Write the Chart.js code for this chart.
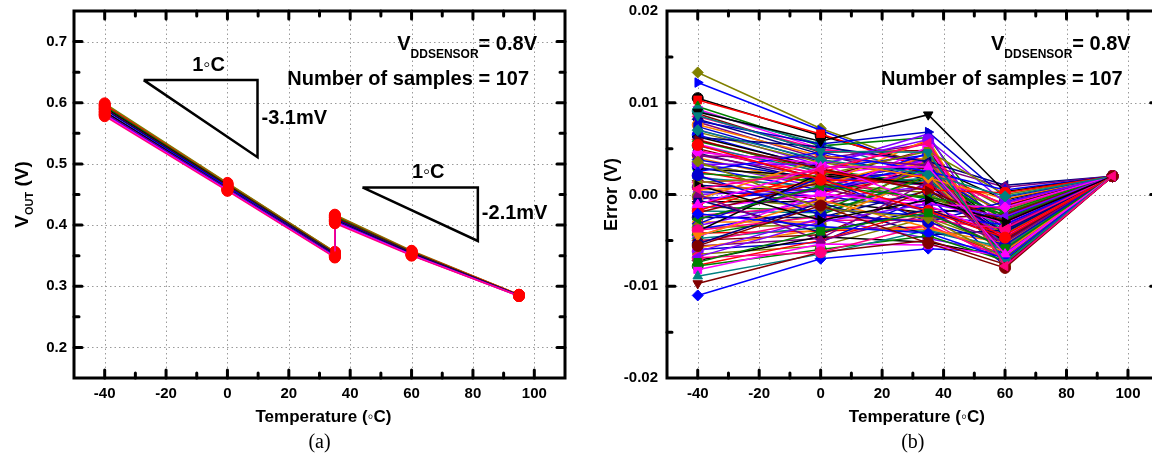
<!DOCTYPE html>
<html>
<head>
<meta charset="utf-8">
<script src="https://cdn.jsdelivr.net/npm/chart.js@4.4.0/dist/chart.umd.min.js"></script>
<style>
  html, body { margin: 0; padding: 0; background: #fff; overflow: hidden; width: 1152px; height: 455px; }
  #wrapA { position: absolute; left: 0; top: 0; width: 576px; height: 455px; }
  #wrapB { position: absolute; left: 576px; top: 0; width: 600px; height: 455px; }
</style>
</head>
<body>
<div id="wrapA"><canvas id="chartA" width="576" height="455"></canvas></div>
<div id="wrapB"><canvas id="chartB" width="600" height="455"></canvas></div>
<script>
// ---------------- data ----------------
// (a) output voltage, V. 35 °C is measured twice (low branch, then high branch)
var temperaturesA = [-40, 0, 35, 35, 60, 95];
var voutAtM40   = [0.599, 0.597, 0.596, 0.594, 0.592, 0.590, 0.589, 0.586, 0.585, 0.583, 0.581, 0.580, 0.578];
var voutAt0     = [0.469, 0.468, 0.467, 0.466, 0.465, 0.464, 0.463, 0.462, 0.460, 0.459, 0.458, 0.457, 0.456];
var voutAt35Low = [0.356, 0.356, 0.355, 0.354, 0.353, 0.353, 0.352, 0.351, 0.351, 0.350, 0.349, 0.348, 0.347];
var voutAt35High= [0.417, 0.416, 0.415, 0.414, 0.412, 0.412, 0.410, 0.409, 0.408, 0.407, 0.406, 0.405, 0.403];
var voutAt60    = [0.358, 0.357, 0.357, 0.356, 0.355, 0.355, 0.354, 0.353, 0.353, 0.352, 0.351, 0.351, 0.350];
var voutAt95    = [0.286, 0.286, 0.286, 0.285, 0.285, 0.285, 0.285, 0.285, 0.285, 0.285, 0.284, 0.284, 0.284];
var lineColorsA = ['#808000', '#808000', '#ff0000', '#008000', '#000000', '#800000', '#000080',
                   '#0000ff', '#000000', '#800080', '#0000ff', '#ff00ff', '#ff0080'];

// slope triangles drawn on (a), in data units
var slopeTriangles = [
  { left: -27.3, right: 9.8,  top: 0.637,  bottom: 0.511, run: '1\u25E6C', rise: '-3.1mV' },
  { left: 44.0,  right: 81.6, top: 0.4615, bottom: 0.374, run: '1\u25E6C', rise: '-2.1mV' }
];

// (b) error of each sample, mV
var temperaturesB = [-40, 0, 35, 60, 95];
var errAtM40 = [13.3, 12.2, 10.5, 10.3, 9.6, 9.3, 9.1, 8.8, 8.5, 8.2,
                7.9, 7.6, 7.4, 7.1, 6.8, 6.5, 6.3, 6.0, 5.8, 5.5,
                5.3, 5.0, 4.8, 4.5, 4.3, 4.0, 3.8, 3.5, 3.3, 3.0,
                2.8, 2.5, 2.3, 2.0, 1.8, 1.5, 1.3, 1.0, 0.8, 0.5,
                0.3, 0.0, -0.2, -0.5, -0.8, -1.0, -1.3, -1.5, -1.8, -2.0,
                -2.3, -2.5, -2.7, -3.0, -3.2, -3.4, -3.6, -3.8, -4.0, -4.2,
                -4.4, -4.6, -4.8, -5.0, -5.2, -5.4, -5.6, -5.8, -6.0, -6.2,
                -6.5, -11.0, -7.2, -7.7, -7.8, -8.2, -8.9, -9.7, -6.9,
                6.2, 4.2, -0.5, 8.0, 3.3, 1.3, 2.5, 9.0, -1.8, -2.7, 4.6,
                7.0, 5.9, -3.9, -0.6, 0.0, -4.5, 2.1, -6.8, 3.6, -2.1,
                1.0, 5.4, -7.4, -1.1, 8.6, -5.6, 0.6];
var errAt0   = [7.2, 7.0, 6.4, 6.6, 5.3, 5.0, 5.5, 4.6, 4.9, 4.4,
                3.9, 4.2, 3.6, 3.2, 3.5, 2.9, 3.0, 2.4, 2.7, 2.1,
                2.5, 1.8, 2.2, 1.4, 1.9, 1.0, 1.6, 0.8, 1.2, 0.5,
                2.0, 0.2, 1.5, -0.3, 0.9, -0.6, 2.0, 0.3, -1.0, 1.1,
                -0.2, 0.6, -1.4, 0.4, -0.8, 1.6, -1.8, 0.0, -2.0, 1.3,
                -1.2, -2.5, 0.7, -3.0, 1.8, -0.5, -3.3, -1.6, 2.3, -4.0,
                -2.2, 0.1, -3.6, -4.4, -2.8, -0.9, -4.8, -3.8, -5.2, -2.6,
                -5.6, -7.0, -4.6, -5.0, -6.0, -5.4, -6.5, -6.3, -6.3,
                5.2, 4.0, 3.8, 5.5, 3.3, 2.1, 4.6, 5.8, 2.6, 0.9, 3.4,
                3.8, 2.8, -2.4, -4.1, -5.0, -0.6, -2.2, -3.0, -1.5, -3.5,
                -2.8, 1.6, -4.0, 3.0, 4.7, -1.2, 2.7];
var errAt35  = [3.0, 2.6, 3.2, 2.8, 6.2, 3.5, 2.2, 4.8, 3.8, 1.6,
                5.5, 3.0, 2.5, 6.6, 1.9, 4.3, 2.9, 5.8, 1.2, 3.6,
                0.5, 4.9, 2.0, 3.3, 1.0, 6.0, 2.6, 3.9, 0.2, 4.5,
                1.5, 2.3, -0.5, 5.2, 1.8, 3.1, -1.0, 2.7, 0.8, 4.1,
                -1.5, 2.4, 0.0, 3.4, -2.0, 1.3, 2.9, -0.8, 1.7, -2.6,
                3.7, 0.4, -1.8, 2.1, -3.0, 0.9, 3.8, -2.3, 1.1, -3.5,
                2.0, -1.2, -4.0, 0.6, -2.8, -4.4, 1.4, -3.8, -0.2, -4.8,
                -2.5, -5.9, -5.2, -1.6, -4.5, -5.5, -3.9, -5.0, -3.3,
                3.6, 3.2, 1.8, 6.8, 6.0, 4.7, 2.5, 8.7, 0.5, -0.3, -1.1,
                2.2, 0.4, -2.8, -1.6, -2.2, -3.6, -3.0, -1.0, -2.6, -4.2,
                -0.6, -1.8, -2.0, 3.0, 4.6, -5.3, 5.6];
var errAt60  = [-1.5, -2.0, -0.6, -1.2, -4.8, -3.4, -5.6, -6.1, -2.6, -4.2,
                -6.8, -3.0, -5.0, -7.2, -1.9, -6.4, -3.8, -7.6, -2.3, -5.3,
                -4.4, -6.7, -1.0, -5.8, -3.6, -7.9, -2.8, -6.2, -4.6, -7.0,
                -3.2, -5.5, -2.1, -7.4, -4.0, -6.0, -1.6, -5.1, -3.5, -6.9,
                -2.5, -5.7, -4.3, -7.1, -1.3, -4.9, -6.5, -3.1, -5.4, -2.2,
                -7.3, -4.1, -5.9, -6.3, -0.8, -4.7, -7.7, -3.3, -5.2, -6.6,
                -2.7, -4.5, -6.0, -5.0, -7.5, -3.9, -6.1, -5.3, -7.8, -6.4,
                -5.6, -6.3, -6.8, -4.4, -7.2, -6.7, -5.8, -7.6, -7.0,
                1.0, 0.8, -0.5, -0.3, -0.9, 0.0, 0.5, 0.3, 0.2, -1.8, -1.4,
                -0.2, -2.9, -3.7, -4.8, -5.2, -6.2, -5.5, -2.4, -6.9, -7.0,
                -3.0, -4.7, -5.9, -6.5, -7.4, -8.0, -7.8];
var errAt95 = 2.0;   // every sample meets at 95 °C

// Origin-like colour / symbol cycles for (b)
var colorsB = ['#808000', '#0000ff', '#000000', '#ff0000', '#008000', '#ff00ff', '#008080',
               '#800000', '#ff0080', '#000080', '#800080', '#ff8000', '#0000cd', '#8000ff'];
var symbolsB = [['rectRot', 0], ['triangle', 90], ['circle', 0], ['rect', 0], ['triangle', 0],
                ['triangle', 180], ['circle', 0], ['triangle', -90], ['rectRot', 0]];

var FONT = '"Liberation Sans", Arial, sans-serif';

function isMajor(v, step) {
  return Math.abs(v / step - Math.round(v / step)) < 1e-6;
}

// draws a run of text pieces (for subscripts), pieces = [text, size, baseline shift]
function drawPieces(ctx, pieces, x, y, align) {
  var total = 0;
  pieces.forEach(function (p) { ctx.font = 'bold ' + p[1] + 'px ' + FONT; total += ctx.measureText(p[0]).width; });
  var cx = align === 'right' ? x - total : align === 'center' ? x - total / 2 : x;
  ctx.textAlign = 'left';
  ctx.textBaseline = 'alphabetic';
  pieces.forEach(function (p) {
    ctx.font = 'bold ' + p[1] + 'px ' + FONT;
    ctx.fillText(p[0], cx, y + p[2]);
    cx += ctx.measureText(p[0]).width;
  });
}

// keep the plot box exactly where the layout padding puts it
function noScalePadding(s) {
  s.paddingTop = 0; s.paddingBottom = 0; s.paddingLeft = 0; s.paddingRight = 0;
}

// dotted grid, thick frame, inward ticks and the text around the plot
function framePlugin(opt) {
  return {
    id: 'frame',
    beforeDatasetsDraw: function (chart) {
      var ctx = chart.ctx, a = chart.chartArea, xs = chart.scales.x, ys = chart.scales.y;
      ctx.save();
      ctx.strokeStyle = '#9a9a9a';
      ctx.lineWidth = 1;
      ctx.setLineDash([1.5, 3]);
      xs.ticks.forEach(function (t) {
        if (!isMajor(t.value, opt.xMajor) || t.value <= xs.min || t.value >= xs.max) return;
        var px = Math.round(xs.getPixelForValue(t.value)) + 0.5;
        ctx.beginPath(); ctx.moveTo(px, a.top); ctx.lineTo(px, a.bottom); ctx.stroke();
      });
      ys.ticks.forEach(function (t) {
        if (!isMajor(t.value, opt.yMajor) || t.value <= ys.min + 1e-9 || t.value >= ys.max - 1e-9) return;
        var py = Math.round(ys.getPixelForValue(t.value)) + 0.5;
        ctx.beginPath(); ctx.moveTo(a.left, py); ctx.lineTo(a.right, py); ctx.stroke();
      });
      ctx.restore();
    },
    afterDraw: function (chart) {
      var ctx = chart.ctx, a = chart.chartArea, xs = chart.scales.x, ys = chart.scales.y;
      ctx.save();
      ctx.strokeStyle = '#000';
      ctx.fillStyle = '#000';
      ctx.lineCap = 'round';
      ctx.lineWidth = 3;
      xs.ticks.forEach(function (t) {
        if (t.value <= xs.min || t.value >= xs.max) return;
        var len = isMajor(t.value, opt.xMajor) ? 8 : 5;
        var px = xs.getPixelForValue(t.value);
        ctx.beginPath();
        ctx.moveTo(px, a.bottom); ctx.lineTo(px, a.bottom - len);
        ctx.moveTo(px, a.top); ctx.lineTo(px, a.top + len);
        ctx.stroke();
      });
      ys.ticks.forEach(function (t) {
        if (t.value <= ys.min + 1e-9 || t.value >= ys.max - 1e-9) return;
        var len = isMajor(t.value, opt.yMajor) ? 8 : 5;
        var py = ys.getPixelForValue(t.value);
        ctx.beginPath();
        ctx.moveTo(a.left, py); ctx.lineTo(a.left + len, py);
        ctx.moveTo(a.right, py); ctx.lineTo(a.right - len, py);
        ctx.stroke();
      });
      ctx.lineCap = 'butt';
      ctx.strokeRect(a.left, a.top, a.right - a.left, a.bottom - a.top);

      // axis titles
      var cx = (a.left + a.right) / 2;
      drawPieces(ctx, [['Temperature (\u25E6C)', 17, 0]], cx + 4, 422, 'center');
      ctx.font = '20px "Liberation Serif", "Times New Roman", serif';
      ctx.textAlign = 'center';
      ctx.fillText(opt.panel, cx, 448);
      ctx.save();
      ctx.translate(opt.yTitleX, (a.top + a.bottom) / 2);
      ctx.rotate(-Math.PI / 2);
      drawPieces(ctx, opt.yTitle, 0, 0, 'center');
      ctx.restore();

      // condition text
      drawPieces(ctx, [['V', 20, 0], ['DDSENSOR', 12, 8], ['= 0.8V', 20, 0]], a.right - 28, 50, 'right');
      drawPieces(ctx, [['Number of samples = 107', 20, 0]], a.right - 36, 85, 'right');

      // slope triangle labels
      (opt.triangles || []).forEach(function (tr) {
        var l = xs.getPixelForValue(tr.left), r = xs.getPixelForValue(tr.right);
        var t = ys.getPixelForValue(tr.top), b = ys.getPixelForValue(tr.bottom);
        drawPieces(ctx, [[tr.run, 20, 0]], l + (r - l) * 0.57, t - 9, 'center');
        drawPieces(ctx, [[tr.rise, 20, 0]], r + 4, (t + b) / 2 + 5, 'left');
      });
      ctx.restore();
    }
  };
}

function xAxis() {
  return {
    type: 'linear', min: -50, max: 110,
    afterFit: function (s) { s.height = 77; noScalePadding(s); },
    grid: { display: false, drawTicks: false }, border: { display: false },
    ticks: {
      stepSize: 10, autoSkip: false, maxRotation: 0, padding: 7, color: '#000',
      font: { family: FONT, size: 15, weight: 'bold' },
      callback: function (v) { return isMajor(v, 20) ? String(v) : ''; }
    }
  };
}

// ---------------- chart (a) ----------------
// Chart.js paints dataset 0 last (on top), so the series go in reversed
var datasetsA = [];
slopeTriangles.forEach(function (tr) {
  datasetsA.push({
    data: [{ x: tr.left, y: tr.top }, { x: tr.right, y: tr.top }, { x: tr.right, y: tr.bottom }, { x: tr.left, y: tr.top }],
    borderColor: '#000', borderWidth: 2.5, pointRadius: 0, tension: 0
  });
});
for (var i = voutAtM40.length - 1; i >= 0; i--) {
  var vals = [voutAtM40[i], voutAt0[i], voutAt35Low[i], voutAt35High[i], voutAt60[i], voutAt95[i]];
  datasetsA.push({
    data: vals.map(function (v, k) { return { x: temperaturesA[k], y: v }; }),
    borderColor: lineColorsA[i], borderWidth: 1.5,
    pointRadius: 5.5, pointBackgroundColor: '#ff0000', pointBorderColor: '#ff0000', pointBorderWidth: 1
  });
}

new Chart(document.getElementById('chartA').getContext('2d'), {
  type: 'line',
  data: { datasets: datasetsA },
  options: {
    responsive: false, animation: false,
    layout: { padding: { left: 0, top: 11, right: 11, bottom: 0 } },
    plugins: { legend: { display: false }, tooltip: { enabled: false } },
    scales: {
      x: xAxis(),
      y: {
        min: 0.15, max: 0.75,
        afterFit: function (s) { s.width = 74; noScalePadding(s); },
        grid: { display: false, drawTicks: false }, border: { display: false },
        ticks: {
          stepSize: 0.05, autoSkip: false, padding: 7, color: '#000',
          font: { family: FONT, size: 15, weight: 'bold' },
          callback: function (v) { return isMajor(v, 0.1) ? v.toFixed(1) : ''; }
        }
      }
    }
  },
  plugins: [framePlugin({
    xMajor: 20, yMajor: 0.1, panel: '(a)', yTitleX: 28,
    yTitle: [['V', 19, 0], ['OUT', 11, 5], [' (V)', 19, 0]],
    triangles: slopeTriangles
  })]
});

// ---------------- chart (b) ----------------
var datasetsB = [];
for (var j = errAtM40.length - 1; j >= 0; j--) {
  var e = [errAtM40[j], errAt0[j], errAt35[j], errAt60[j], errAt95];
  var col = colorsB[j % colorsB.length];
  var sym = symbolsB[j % symbolsB.length];
  datasetsB.push({
    data: e.map(function (v, k) { return { x: temperaturesB[k], y: v / 1000 }; }),
    borderColor: col, borderWidth: 1.5,
    pointStyle: sym[0], pointRotation: sym[1], pointRadius: 5.5,
    pointBackgroundColor: col, pointBorderColor: col, pointBorderWidth: 1
  });
}

new Chart(document.getElementById('chartB').getContext('2d'), {
  type: 'line',
  data: { datasets: datasetsB },
  options: {
    responsive: false, animation: false,
    layout: { padding: { left: 0, top: 11, right: 17.3, bottom: 0 } },
    plugins: { legend: { display: false }, tooltip: { enabled: false } },
    scales: {
      x: xAxis(),
      y: {
        min: -0.02, max: 0.02,
        afterFit: function (s) { s.width = 91; noScalePadding(s); },
        grid: { display: false, drawTicks: false }, border: { display: false },
        ticks: {
          stepSize: 0.005, autoSkip: false, padding: 9, color: '#000',
          font: { family: FONT, size: 15, weight: 'bold' },
          callback: function (v) { return isMajor(v, 0.01) ? v.toFixed(2) : ''; }
        }
      }
    }
  },
  plugins: [framePlugin({
    xMajor: 20, yMajor: 0.01, panel: '(b)', yTitleX: 41,
    yTitle: [['Error (V)', 18, 0]]
  })]
});
</script>
</body>
</html>
